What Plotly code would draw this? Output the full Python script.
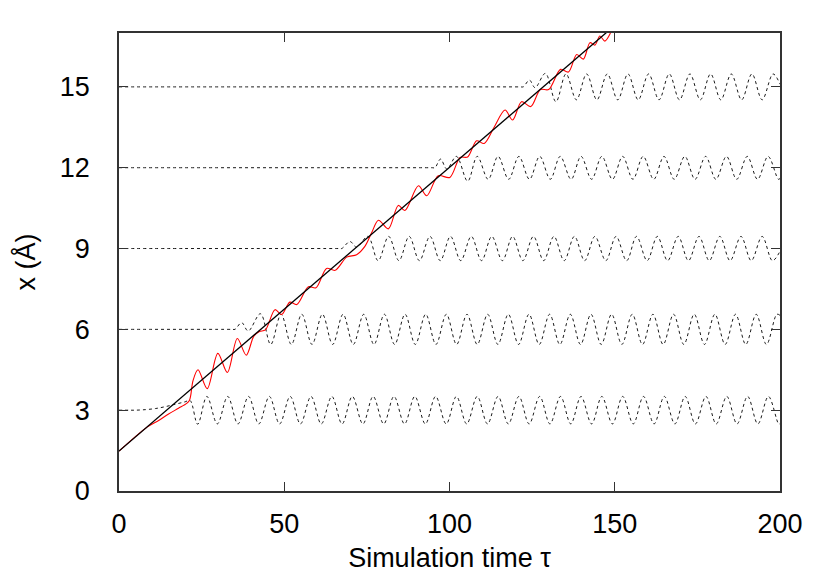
import plotly.graph_objects as go

# ---------------- data ----------------
# straight reference trajectory (black solid)
line_t = [0.0, 200.0]
line_x = [1.48, 22.55]

# particle trajectory (red)
red_t = [0, 8.5, 12, 15, 18, 20.5, 21.3, 21.7, 22.4, 23.9, 26.7, 29.9, 32.8, 35.8, 38.5,
         40.8, 42.5, 44.3, 47.2, 49.2, 51.7, 53.8, 57.3, 59.6, 62.8, 65.4, 68.9, 71.9,
         74.5, 76.5, 78.5, 81.5, 84.5, 86.5, 90.6, 93.1, 96.6, 100.1, 103.2, 105.5,
         108.2, 110.5, 113.5, 116.8, 119.1, 121.8, 124.6, 127.5, 130.0, 133.6, 136.0,
         138.5, 140.5, 142.5, 144.0, 145.5, 147.0, 148.7]
red_x = [1.48, 2.37, 2.62, 2.86, 3.07, 3.25, 3.36, 3.55, 4.1, 4.5, 3.8, 5.11, 4.4, 5.66, 5.04,
         5.75, 5.92, 5.98, 6.73, 6.55, 7.01, 6.92, 7.58, 7.54, 8.26, 8.19, 8.68, 8.77,
         9.1, 9.6, 10.05, 9.73, 10.6, 10.41, 11.33, 10.96, 11.7, 11.64, 12.38, 12.4,
         13.0, 12.9, 13.5, 14.14, 13.77, 14.45, 14.27, 14.9, 14.9, 15.65, 15.55,
         16.2, 16.03, 16.64, 16.55, 16.89, 16.7, 17.0]

# lattice atoms (black dotted): rest position, onset, then extrema of the oscillation
atom3_t = [0, 3, 5, 8, 11, 14, 17, 20, 21.5, 23.8,
           26.6, 29.75, 32.9, 36.0, 39.2, 42.3, 45.5, 48.6, 51.8, 54.9, 58.1, 61.2, 64.4,
           67.5, 70.6, 73.8, 76.9, 80.1, 83.2, 86.4, 89.5, 92.7, 95.8, 99.0, 102.1, 105.2,
           108.4, 111.5, 114.7, 117.8, 121.0, 124.1, 127.3, 130.4, 133.6, 136.7, 139.8,
           143.0, 146.1, 149.3, 152.4, 155.6, 158.7, 161.9, 165.0, 168.2, 171.3, 174.4,
           177.6, 180.7, 183.9, 187.0, 190.2, 193.3, 196.5, 199.6, 200]
atom3_x = [3.0, 3.0, 3.0, 3.02, 3.06, 3.13, 3.22, 3.31, 3.36, 2.48,
           3.51, 2.49, 3.51, 2.49, 3.51, 2.49, 3.51, 2.49, 3.51, 2.49, 3.51, 2.49, 3.51,
           2.49, 3.51, 2.49, 3.51, 2.49, 3.51, 2.49, 3.51, 2.49, 3.51, 2.49, 3.51, 2.49,
           3.51, 2.49, 3.51, 2.49, 3.51, 2.49, 3.51, 2.49, 3.51, 2.49, 3.51,
           2.49, 3.51, 2.49, 3.51, 2.49, 3.51, 2.49, 3.51, 2.49, 3.51, 2.49,
           3.51, 2.49, 3.51, 2.49, 3.51, 2.49, 3.51, 2.49, 2.5]

atom6_t = [0, 10, 20, 30, 33, 34.3, 35.1, 37.1, 39.1, 42.8, 45.9, 49.05, 52.15, 55.3, 58.4,
           61.55, 64.65, 67.8,
           70.9, 74.05, 77.15, 80.3, 83.4, 86.55, 89.65, 92.8, 95.9, 99.05, 102.15, 105.3,
           108.4, 111.55, 114.65, 117.8, 120.9, 124.05, 127.15, 130.3, 133.4, 136.55,
           139.65, 142.8, 145.9, 149.05, 152.15, 155.3, 158.4, 161.55, 164.65, 167.8,
           170.9, 174.05, 177.15, 180.3, 183.4, 186.55, 189.65, 192.8, 195.9, 199.05, 200]
atom6_x = [6.0, 6.0, 6.0, 6.0, 6.0, 6.0, 6.0, 6.25, 5.94, 6.58, 5.44, 6.56, 5.44, 6.56, 5.44,
           6.56, 5.44, 6.56,
           5.44, 6.56, 5.44, 6.56, 5.44, 6.56, 5.44, 6.56, 5.44, 6.56, 5.44, 6.56,
           5.44, 6.56, 5.44, 6.56, 5.44, 6.56, 5.44, 6.56, 5.44, 6.56,
           5.44, 6.56, 5.44, 6.56, 5.44, 6.56, 5.44, 6.56, 5.44, 6.56,
           5.44, 6.56, 5.44, 6.56, 5.44, 6.56, 5.44, 6.56, 5.44, 6.56, 6.52]

atom9_t = [0, 20, 40, 60, 65, 66.6, 67.4, 69.9, 71.9, 75.3, 78.4, 81.6, 84.7, 87.8, 90.9,
           94.1, 97.2, 100.3,
           103.4, 106.6, 109.7, 112.8, 116.0, 119.1, 122.2, 125.4, 128.5, 131.6, 134.7,
           137.8, 140.9, 144.0, 147.3, 150.4, 153.6, 156.6, 159.8, 162.9, 166.0, 169.2,
           172.3, 175.5, 178.6, 181.8, 184.9, 188.2, 191.3, 194.6, 197.7, 200]
atom9_x = [9.0, 9.0, 9.0, 9.0, 9.0, 9.0, 9.0, 9.26, 9.05, 9.45, 8.55, 9.45, 8.55, 9.45, 8.55,
           9.45, 8.55, 9.45,
           8.55, 9.45, 8.55, 9.45, 8.55, 9.45, 8.55, 9.45, 8.55, 9.45, 8.55,
           9.45, 8.55, 9.45, 8.55, 9.45, 8.55, 9.45, 8.55, 9.45, 8.55, 9.45,
           8.55, 9.45, 8.55, 9.45, 8.55, 9.45, 8.55, 9.45, 8.55, 8.9]

atom12_t = [0, 30, 60, 90, 93, 94.8, 95.6, 97.3, 99.2, 102.1, 105.5, 108.4, 111.7, 114.7,
            117.9, 121.0, 124.2,
            127.3, 130.5, 133.5, 136.8, 139.8, 143.0, 146.1, 149.3, 152.4, 155.5, 158.6,
            161.8, 164.9, 168.0, 171.2, 174.3, 177.5, 180.6, 183.8, 186.9, 190.1, 193.2,
            196.4, 199.5, 200]
atom12_x = [12.0, 12.0, 12.0, 12.0, 12.0, 12.0, 12.0, 12.32, 11.95, 12.42, 11.5, 12.42,
            11.57, 12.42, 11.57, 12.42, 11.57,
            12.42, 11.57, 12.42, 11.57, 12.42, 11.57, 12.42, 11.57, 12.42, 11.57, 12.42,
            11.57, 12.42, 11.57, 12.42, 11.57, 12.42, 11.57, 12.42, 11.57, 12.42, 11.57,
            12.42, 11.57, 11.6]

atom15_t = [0, 40, 80, 115, 119, 121.5, 122.3, 124.2, 125.9, 129.0, 132.2, 135.25, 138.4,
            141.5, 144.6, 147.75,
            150.9, 154.0, 157.1, 160.25, 163.4, 166.5, 169.6, 172.75, 175.9, 179.0, 182.1,
            185.25, 188.4, 191.5, 194.6, 197.9, 200]
atom15_x = [15.0, 15.0, 15.0, 15.0, 15.0, 15.0, 15.0, 15.25, 14.97, 15.5, 14.45, 15.48,
            14.52, 15.48, 14.52, 15.48,
            14.52, 15.48, 14.52, 15.48, 14.52, 15.48, 14.52, 15.48, 14.52, 15.48, 14.52,
            15.48, 14.52, 15.48, 14.52, 15.48, 15.1]

x_ticks = [0, 50, 100, 150, 200]
y_ticks = [0, 3, 6, 9, 12, 15]

# ---------------- figure ----------------
fig = go.Figure()

dot_style = dict(color="#1a1a1a", width=1, dash="3px,3px", shape="spline", smoothing=1.0)
for t, x in [(atom3_t, atom3_x), (atom6_t, atom6_x), (atom9_t, atom9_x),
             (atom12_t, atom12_x), (atom15_t, atom15_x)]:
    fig.add_trace(go.Scatter(x=t, y=x, mode="lines", line=dot_style,
                             showlegend=False, hoverinfo="skip"))

fig.add_trace(go.Scatter(x=red_t, y=red_x, mode="lines",
                         line=dict(color="#ff0000", width=1.1, shape="spline", smoothing=0.9),
                         showlegend=False))
fig.add_trace(go.Scatter(x=line_t, y=line_x, mode="lines",
                         line=dict(color="#000000", width=1.3),
                         showlegend=False))

font = dict(family="Liberation Sans, Arial, Helvetica, sans-serif", size=27, color="#000000")

# the page body adds an 8 px offset; margins compensate so the plot box sits at
# x 119..780, y 33..491 of the window
fig.update_layout(
    width=822, height=573,
    margin=dict(l=111, r=50, t=25, b=90),
    paper_bgcolor="white", plot_bgcolor="white",
    font=font,
    showlegend=False,
    xaxis=dict(range=[0, 200], tickvals=x_ticks, ticks="inside", ticklen=9,
               tickcolor="#333", showline=True, linecolor="#333", linewidth=1.5,
               mirror="ticks", showgrid=False, zeroline=False,
               ticklabelstandoff=8,
               title=dict(text="Simulation time τ", standoff=10, font=font)),
    yaxis=dict(range=[0, 17], tickvals=y_ticks, ticks="inside", ticklen=9,
               tickcolor="#333", showline=True, linecolor="#333", linewidth=1.5,
               mirror="ticks", showgrid=False, zeroline=False,
               ticklabelstandoff=22,
               title=dict(text="x (Å)", standoff=16, font=font)),
)

fig.write_html("out.html")
